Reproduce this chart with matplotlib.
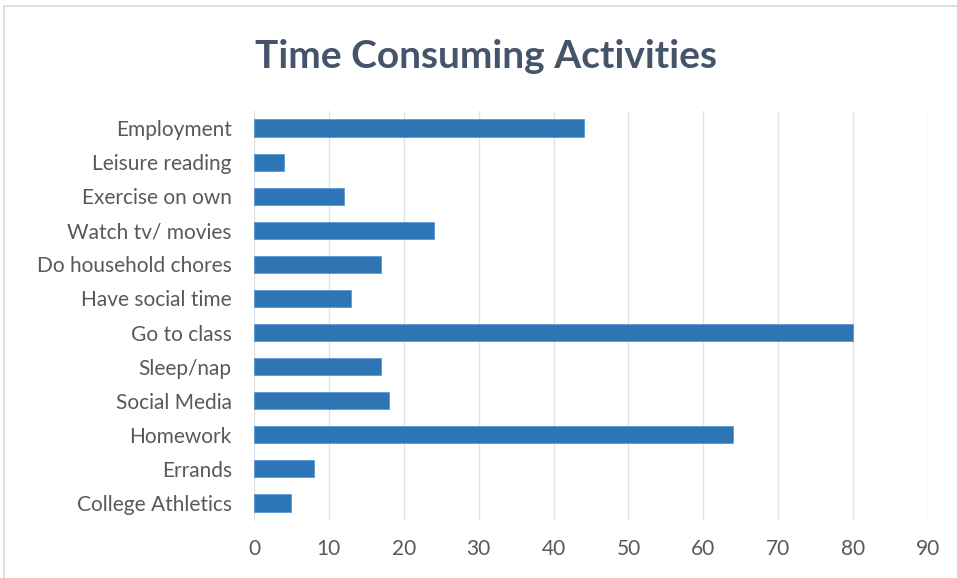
import matplotlib.pyplot as plt
from matplotlib.patches import Rectangle

activities = ['Employment', 'Leisure reading', 'Exercise on own', 'Watch tv/ movies',
              'Do household chores', 'Have social time', 'Go to class', 'Sleep/nap',
              'Social Media', 'Homework', 'Errands', 'College Athletics']
counts = [44, 4, 12, 24, 17, 13, 80, 17, 18, 64, 8, 5]
xticks = [0, 10, 20, 30, 40, 50, 60, 70, 80, 90]

plt.rcParams['font.family'] = ['Lato', 'DejaVu Sans']

fig = plt.figure(figsize=(9.57, 5.78), dpi=100)
ax = fig.add_axes([0.2654, 0.1003, 0.7043, 0.7077])

ax.barh(activities, counts, height=0.5, color='#2E75B6', edgecolor='#5B9BD5', linewidth=0.6, zorder=3)
ax.set_ylim(len(activities) - 0.5, -0.5)
ax.set_xlim(0, 90)
ax.set_xticks(xticks)
ax.grid(axis='x', color='#dde1e8', linewidth=1, zorder=0)
for s in ['top', 'right', 'bottom']:
    ax.spines[s].set_visible(False)
ax.spines['left'].set_color('#dde1e8')
ax.tick_params(length=0, labelsize=15, colors='#595959')
ax.tick_params(axis='y', pad=16)
ax.tick_params(axis='x', pad=14)

fig.suptitle('Time Consuming Activities', x=0.508, y=0.932, fontsize=28,
             fontweight='bold', color='#44546A')

fig.patches.append(Rectangle((0.004, -0.01), 1.1, 1.0, transform=fig.transFigure,
                             fill=False, edgecolor='#d9d9d9', linewidth=1.2))

fig.savefig('out.png', dpi=100)
